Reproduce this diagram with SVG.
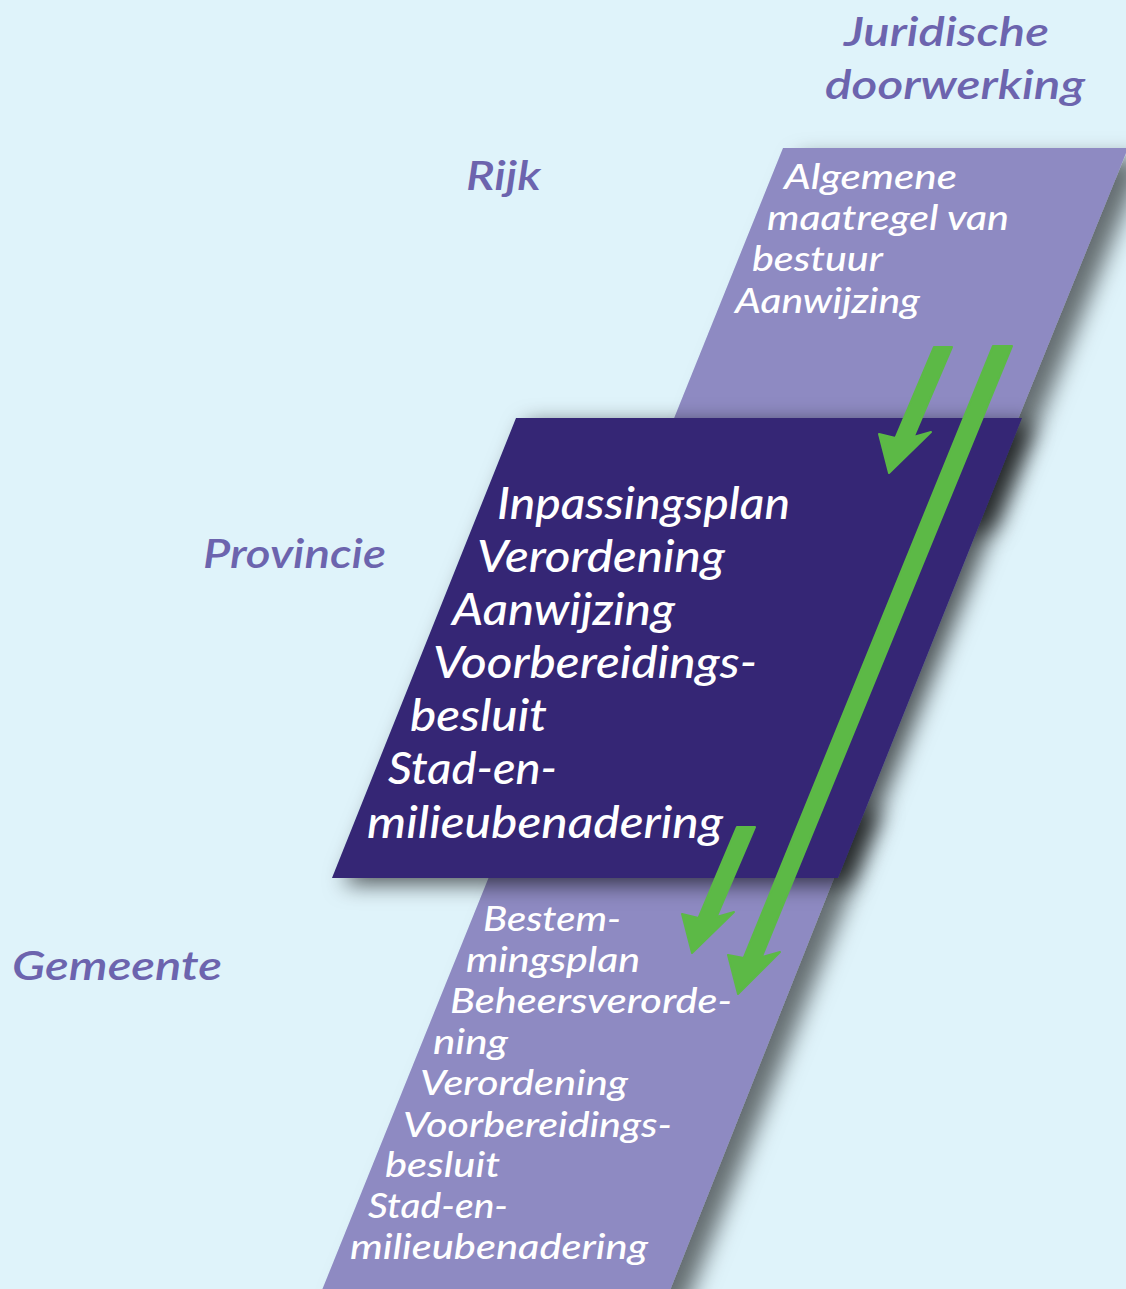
<svg xmlns="http://www.w3.org/2000/svg" width="1126" height="1289" viewBox="0 0 1126 1289">
<defs>
<style>
.bg{fill:#dff3fa}
.band{fill:#8e8ac2}
.dark{fill:#342874}
.lbl{font-family:Lato,"Open Sans","Liberation Sans",sans-serif;font-style:italic;font-weight:600;font-size:40px;fill:#6c64ae}
.t1{font-family:Lato,"Open Sans","Liberation Sans",sans-serif;font-style:italic;font-weight:500;font-size:35px;fill:#ffffff}
.t2{font-family:Lato,"Open Sans","Liberation Sans",sans-serif;font-style:italic;font-weight:500;font-size:44px;fill:#ffffff}
.arrow{fill:#5cb946;stroke:#5cb946;stroke-width:2;stroke-linejoin:round}
</style>
<filter id="shBand" x="-20%" y="-20%" width="150%" height="150%">
<feDropShadow dx="18" dy="10" stdDeviation="11" flood-color="#000" flood-opacity="0.55"/>
</filter>
<filter id="shBox" x="-20%" y="-20%" width="150%" height="150%">
<feDropShadow dx="12" dy="6" stdDeviation="11" flood-color="#000" flood-opacity="0.65"/>
</filter>
</defs>
<rect class="bg" x="0" y="0" width="1126" height="1289"/>

<g id="label-juridische">
<text class="lbl" x="844" y="46" textLength="205" lengthAdjust="spacingAndGlyphs">Juridische</text>
<text class="lbl" x="825" y="99" textLength="260" lengthAdjust="spacingAndGlyphs">doorwerking</text>
</g>
<g id="label-rijk"><text class="lbl" x="466" y="190" textLength="75" lengthAdjust="spacingAndGlyphs">Rijk</text></g>
<g id="label-provincie"><text class="lbl" x="203" y="568" textLength="183" lengthAdjust="spacingAndGlyphs">Provincie</text></g>
<g id="label-gemeente"><text class="lbl" x="12" y="980" textLength="210" lengthAdjust="spacingAndGlyphs">Gemeente</text></g>

<g id="node-rijk">
<path class="band" filter="url(#shBand)" d="M783,148 L1128,148 L977,520 L633,520 Z"/>
<text class="t1" x="784" y="189" textLength="173" lengthAdjust="spacingAndGlyphs">Algemene</text>
<text class="t1" x="767" y="230" textLength="242" lengthAdjust="spacingAndGlyphs">maatregel van</text>
<text class="t1" x="752" y="271" textLength="131" lengthAdjust="spacingAndGlyphs">bestuur</text>
<text class="t1" x="735" y="313" textLength="185" lengthAdjust="spacingAndGlyphs">Aanwijzing</text>
</g>

<g id="node-gemeente">
<path class="band" filter="url(#shBand)" d="M520,800 L865,800 L666,1300 L318,1300 Z"/>
<text class="t1" x="483" y="931" textLength="138" lengthAdjust="spacingAndGlyphs">Bestem-</text>
<text class="t1" x="466" y="972" textLength="174" lengthAdjust="spacingAndGlyphs">mingsplan</text>
<text class="t1" x="450" y="1013" textLength="282" lengthAdjust="spacingAndGlyphs">Beheersverorde-</text>
<text class="t1" x="433" y="1054" textLength="75" lengthAdjust="spacingAndGlyphs">ning</text>
<text class="t1" x="420" y="1095" textLength="208" lengthAdjust="spacingAndGlyphs">Verordening</text>
<text class="t1" x="403" y="1137" textLength="269" lengthAdjust="spacingAndGlyphs">Voorbereidings-</text>
<text class="t1" x="385" y="1177" textLength="115" lengthAdjust="spacingAndGlyphs">besluit</text>
<text class="t1" x="368" y="1218" textLength="140" lengthAdjust="spacingAndGlyphs">Stad-en-</text>
<text class="t1" x="350" y="1259" textLength="298" lengthAdjust="spacingAndGlyphs">milieubenadering</text>
</g>

<g id="node-provincie">
<path class="dark" filter="url(#shBox)" d="M516,418 L1022,418 L838,878 L332,878 Z"/>
<text class="t2" x="497" y="519" textLength="293" lengthAdjust="spacingAndGlyphs">Inpassingsplan</text>
<text class="t2" x="477" y="572" textLength="248" lengthAdjust="spacingAndGlyphs">Verordening</text>
<text class="t2" x="452" y="625" textLength="223" lengthAdjust="spacingAndGlyphs">Aanwijzing</text>
<text class="t2" x="433" y="678" textLength="324" lengthAdjust="spacingAndGlyphs">Voorbereidings-</text>
<text class="t2" x="410" y="731" textLength="137" lengthAdjust="spacingAndGlyphs">besluit</text>
<text class="t2" x="388" y="784" textLength="169" lengthAdjust="spacingAndGlyphs">Stad-en-</text>
<text class="t2" x="367" y="838" textLength="356" lengthAdjust="spacingAndGlyphs">milieubenadering</text>
</g>

<g id="connectors">
<path class="arrow" d="M934,347 L952,347 L913.5,437 L931,432 L889,473 L879,434 L895.5,438 Z"/>
<path class="arrow" d="M737,827 L755,827 L716.5,917 L734,912 L692,953 L682,914 L698.5,918 Z"/>
<path class="arrow" d="M993,346 L1012,346 L761.7,957 L780,952 L738,994 L728,955 L743.7,958 Z"/>
</g>
</svg>
